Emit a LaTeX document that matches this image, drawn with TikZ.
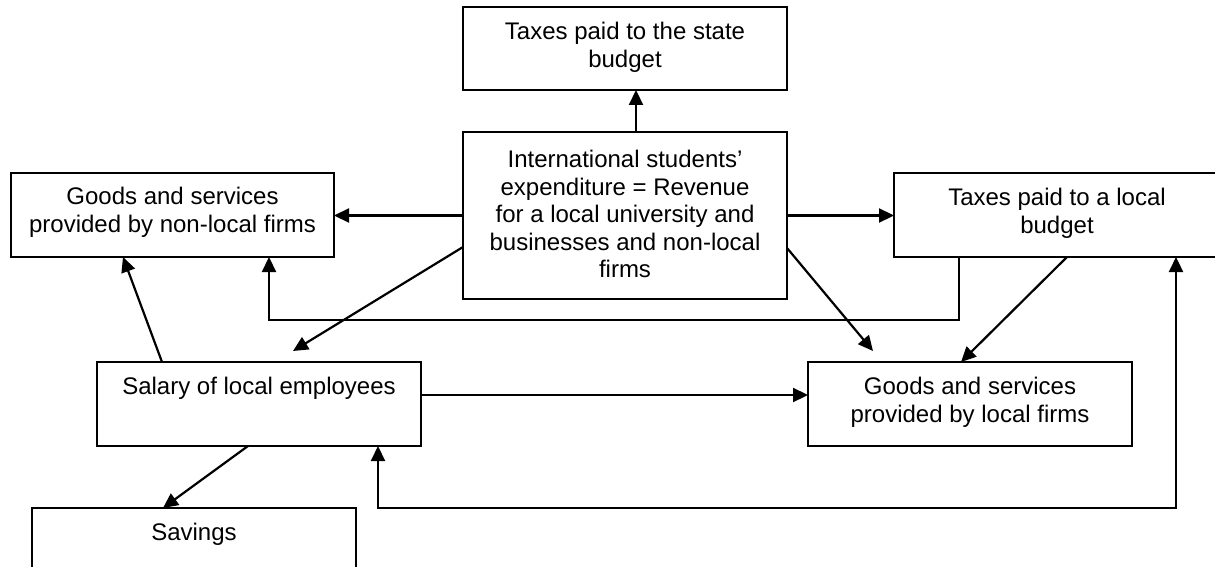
\documentclass[tikz,border=0pt]{standalone}
\usepackage{fontspec}
\setmainfont{Liberation Sans}
\usetikzlibrary{arrows.meta,calc}
\begin{document}
\begin{tikzpicture}[x=1pt,y=-1pt,
  box/.style={draw, line width=1.8pt, minimum width=324pt, minimum height=84pt, inner sep=0pt, outer sep=0pt},
  txt/.style={font=\fontsize{24}{27.6}\selectfont, align=center, inner sep=0pt, anchor=north, yshift=-15pt},
  arr/.style={line width=2.2pt, -{Triangle[length=15pt,width=14pt]}},
  darr/.style={line width=2.2pt, {Triangle[length=15pt,width=14pt]}-{Triangle[length=15pt,width=14pt]}}]
\clip (0,0) rectangle (1215,567);
\fill[white] (0,0) rectangle (1215,567);

\node[box, minimum height=83pt, label={[txt]north:{Taxes paid to the state\\budget}}] (state) at (625,48.5) {};
\node[box, minimum height=167pt, label={[txt, yshift=-3pt]north:{International students’\\expenditure = Revenue\\for a local university and\\businesses and non-local\\firms}}] (intl) at (625,215.5) {};
\node[box, minimum width=323pt, label={[txt, yshift=1pt]north:{Goods and services\\provided by non-local firms}}] (nonlocal) at (172.5,215) {};
\node[box, minimum width=326pt, label={[txt]north:{Taxes paid to a local\\budget}}] (localtax) at (1057,215) {};
\node[box, label={[txt]north:{Salary of local employees}}] (salary) at (259,404) {};
\node[box, label={[txt]north:{Goods and services\\provided by local firms}}] (localgoods) at (970,404) {};
\node[box, label={[txt]north:{Savings}}] (savings) at (194,550) {};

\draw[arr] ([xshift=11pt]intl.north) -- ([xshift=11pt]state.south);
\draw[arr] (intl.west) -- (intl.west -| nonlocal.east);
\draw[arr] (intl.east) -- (intl.east -| localtax.west);
\draw[arr] ([yshift=-31.5pt]intl.west) -- ($(salary.north)+(34,-11)$);
\draw[arr] ([yshift=-32.5pt]intl.east) -- ($(localgoods.north)+(-97,-11)$);
\draw[arr] ($(salary.north)+(-97,0)$) -- ($(nonlocal.south)+(-49.5,0)$);
\draw[arr] ([yshift=9pt]salary.east) -- ([yshift=9pt]salary.east -| localgoods.west);
\draw[arr] ($(salary.south)+(-11,0)$) -- ($(savings.north)+(-31,0)$);
\draw[arr] ($(localtax.south)+(-98,0)$) |- ($(nonlocal.south)+(96.5,63)$) -- ($(nonlocal.south)+(96.5,0)$);
\draw[arr] ($(localtax.south)+(10,0)$) -- ($(localgoods.north)+(-9,0)$);
\draw[darr] ($(salary.south)+(119,0)$) -- ++(0,62) -| ($(localtax.south)+(119,0)$);
\end{tikzpicture}
\end{document}
